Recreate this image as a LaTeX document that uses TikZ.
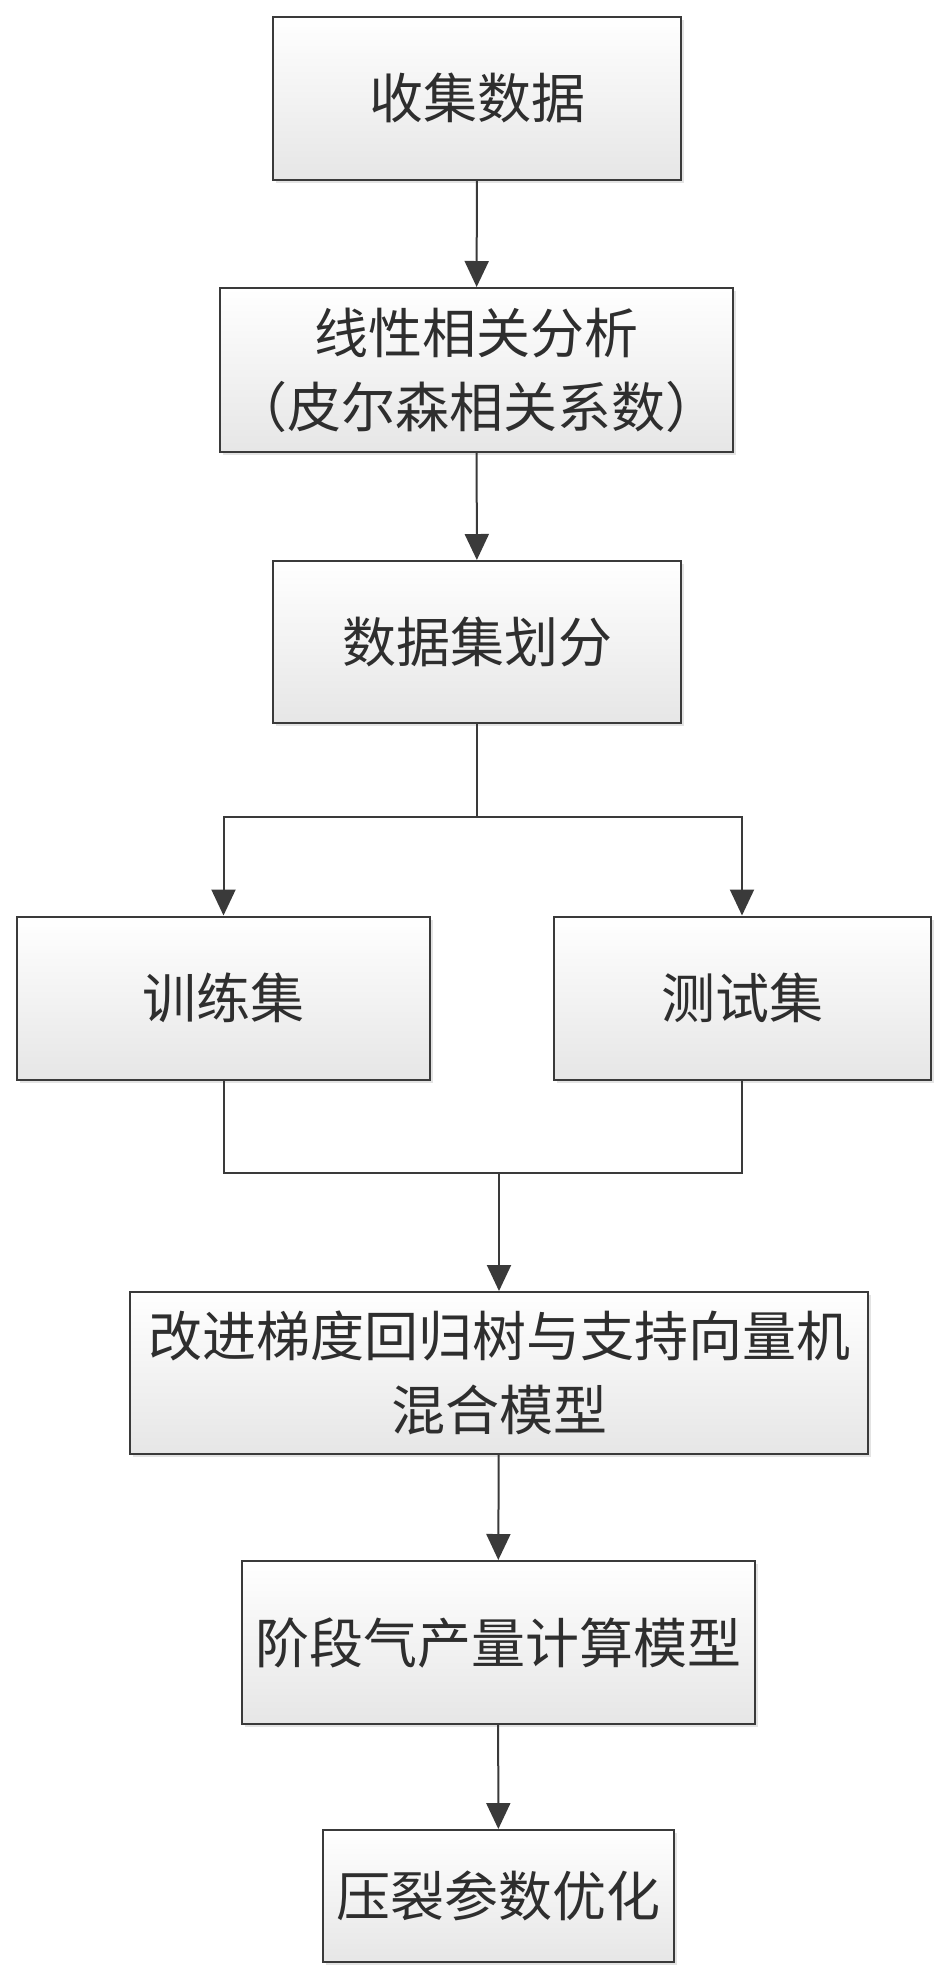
\documentclass[tikz,border=0pt]{standalone}
\usepackage{fontspec}
\setmainfont{Noto Sans CJK SC}
\usetikzlibrary{arrows.meta,shadows,positioning}
\definecolor{edgec}{HTML}{3A3A3A}
\definecolor{botc}{HTML}{E6E6E6}
\definecolor{txtc}{HTML}{2E2E2E}
\tikzset{
  box/.style={draw=edgec, line width=2pt, inner sep=0pt, align=center,
    top color=white, bottom color=botc, text=txtc,
    font=\fontsize{54pt}{74pt}\selectfont,
    drop shadow={opacity=0.22, shadow xshift=3pt, shadow yshift=-3pt}},
  link/.style={draw=edgec, line width=2pt},
  arr/.style={link, -{Triangle[length=26pt,width=24pt]}}
}
\begin{document}
\begin{tikzpicture}[x=1pt,y=-1pt]
\useasboundingbox (0,0) rectangle (947,1978);
\node[box, minimum width=408pt, minimum height=163pt] (b1) at (477,98) {收集数据};
\node[box, minimum width=513pt, minimum height=164pt] (b2) at (476.5,370) {线性相关分析\\（皮尔森相关系数）};
\node[box, minimum width=408pt, minimum height=162pt] (b3) at (477,642) {数据集划分};
\node[box, minimum width=413pt, minimum height=163pt] (b4) at (223.5,998) {训练集};
\node[box, minimum width=377pt, minimum height=163pt] (b5) at (742,998) {测试集};
\node[box, minimum width=738pt, minimum height=162pt] (b6) at (499,1373) {改进梯度回归树与支持向量机\\混合模型};
\node[box, minimum width=513pt, minimum height=163pt] (b7) at (498,1642.5) {阶段气产量计算模型};
\node[box, minimum width=351pt, minimum height=132pt] (b8) at (498.5,1896) {压裂参数优化};
\coordinate (s) at (477,817);
\coordinate (m) at (499,1173);
\draw[arr] (b1) -- (b2);
\draw[arr] (b2) -- (b3);
\draw[link] (b3) -- (s);
\draw[arr] (s) -| (b4);
\draw[arr] (s) -| (b5);
\draw[link] (b4.south) |- (m) -| (b5.south);
\draw[arr] (m) -- (b6);
\draw[arr] (b6) -- (b7);
\draw[arr] (b7) -- (b8);
\end{tikzpicture}
\end{document}
